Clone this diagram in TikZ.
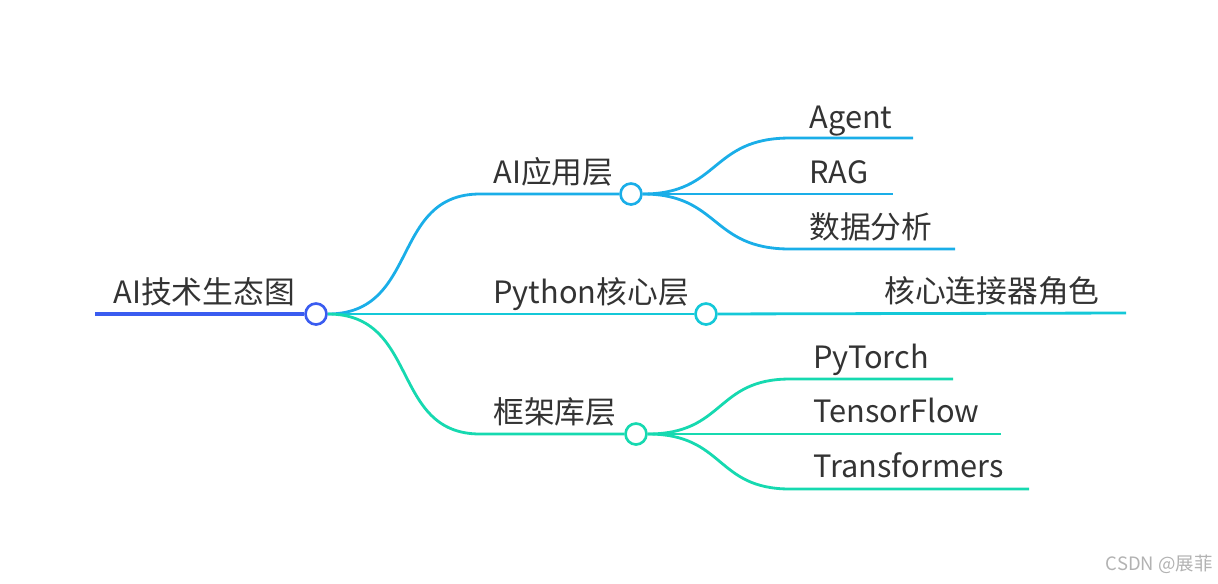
\documentclass[tikz,border=0pt]{standalone}
\usepackage{fontspec}
\setmainfont{Noto Sans CJK SC}
\usetikzlibrary{positioning}
\definecolor{rootblue}{HTML}{3A5CF0}
\definecolor{appblue}{HTML}{1AAEE8}
\definecolor{pycyan}{HTML}{14C8D8}
\definecolor{fwgreen}{HTML}{16D9B0}
\definecolor{txt}{HTML}{333333}

\begin{document}
\begin{tikzpicture}[x=0.02cm,y=-0.02cm,line width=1.6pt,
  hub/.style={circle,draw,fill=white,line width=1.5pt,inner sep=0pt,minimum size=0.42cm},
  lbl/.style={text=txt,font=\fontsize{17.5}{20}\selectfont,anchor=base west,inner sep=0pt},
  wmark/.style={text=gray!60,font=\fontsize{10.5}{12}\selectfont,anchor=base east,inner sep=0pt}]
\useasboundingbox (0,0) rectangle (1218,583);

% root
\coordinate (rs) at (95,314);
\node[hub,draw=rootblue] (root) at (316,314) {};
\draw[rootblue,line width=2.4pt] (rs) -- (root);
\node[lbl] (rootl) at (112,303) {AI技术生态图};

% level one
\node[hub,draw=appblue] (app) at (631,194) {};
\node[hub,draw=pycyan] (py) at (706,314) {};
\node[hub,draw=fwgreen] (fw) at (636,434) {};
\draw[appblue] (root) .. controls (420,314) and (390,194) .. (480,194) -- (app);
\draw[pycyan] (root) -- (py);
\draw[fwgreen] (root) .. controls (420,314) and (390,434) .. (480,434) -- (fw);
\node[lbl] (appl) at (492,183) {AI应用层};
\node[lbl] (pyl) at (492,303) {Python核心层};
\node[lbl] (fwl) at (492,423) {框架库层};

% leaves
\coordinate (agent) at (913,138);
\coordinate (rag) at (893,194);
\coordinate (data) at (955,249);
\coordinate (core) at (1126,313);
\coordinate (torch) at (953,379);
\coordinate (tf) at (1001,434);
\coordinate (trf) at (1029,489);
\draw[appblue] (app) .. controls (720,194) and (710,138) .. (790,138) -- (agent);
\draw[appblue] (app) -- (rag);
\draw[appblue] (app) .. controls (720,194) and (710,249) .. (790,249) -- (data);
\draw[pycyan] (py) -- (core);
\draw[fwgreen] (fw) .. controls (725,434) and (715,379) .. (790,379) -- (torch);
\draw[fwgreen] (fw) -- (tf);
\draw[fwgreen] (fw) .. controls (725,434) and (715,489) .. (790,489) -- (trf);
\node[lbl] (agentl) at (808,128) {Agent};
\node[lbl] (ragl) at (808,183) {RAG};
\node[lbl] (datal) at (808,238) {数据分析};
\node[lbl] (corel) at (883,302) {核心连接器角色};
\node[lbl] (torchl) at (812,368) {PyTorch};
\node[lbl] (tfl) at (812,422) {TensorFlow};
\node[lbl] (trfl) at (812,477) {Transformers};

\node[wmark] (csdn) at (1214,570) {CSDN @展菲};
\end{tikzpicture}
\end{document}
